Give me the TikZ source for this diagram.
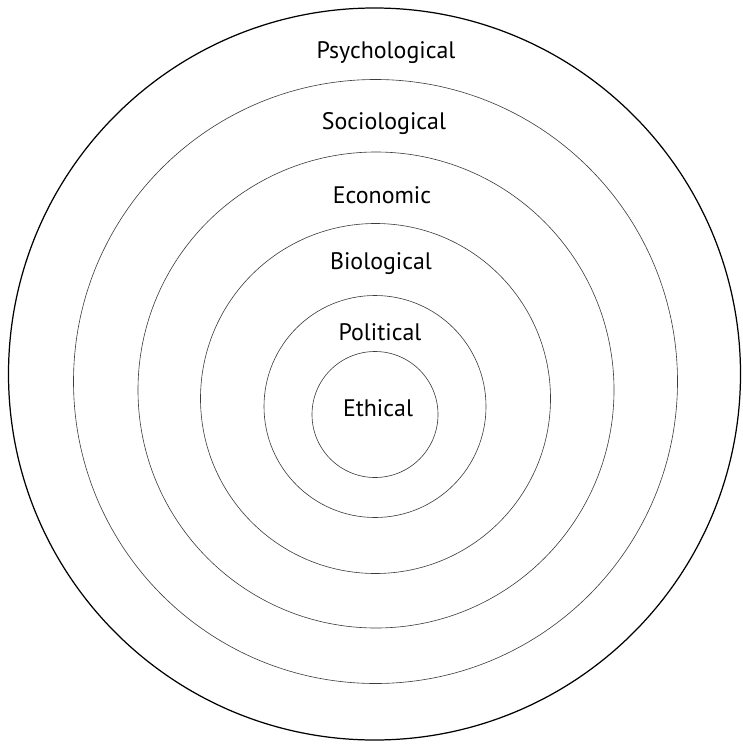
\documentclass[tikz,border=0pt]{standalone}
\usepackage{fontspec}
\setmainfont{PT Sans}
\definecolor{ringgray}{RGB}{60,60,60}

\begin{document}
\begin{tikzpicture}[
    x=0.02cm, y=-0.02cm,
    ring/.style={draw=ringgray, line width=0.35pt},
    outer/.style={draw=black, line width=0.7pt},
    label/.style={font=\fontsize{13.6}{16}\selectfont, inner sep=0pt}
]
    \useasboundingbox (0,0) rectangle (743,747);

    % Rings, outermost first
    \draw[outer] (374.5,374) circle (366);
    \draw[ring] (375.5,381.5) circle (302);
    \draw[ring] (376,390) circle (238);
    \draw[ring] (375.5,398.5) circle (175);
    \draw[ring] (375,406.5) circle (111);
    \draw[ring] (375,414.5) circle (63);

    % Labels
    \node[label] (psych) at (386,53) {Psychological};
    \node[label] (socio) at (384,124) {Sociological};
    \node[label] (econ) at (382,195) {Economic};
    \node[label] (bio) at (381,264) {Biological};
    \node[label] (pol) at (380,332) {Political};
    \node[label] (eth) at (378,408) {Ethical};
\end{tikzpicture}
\end{document}
